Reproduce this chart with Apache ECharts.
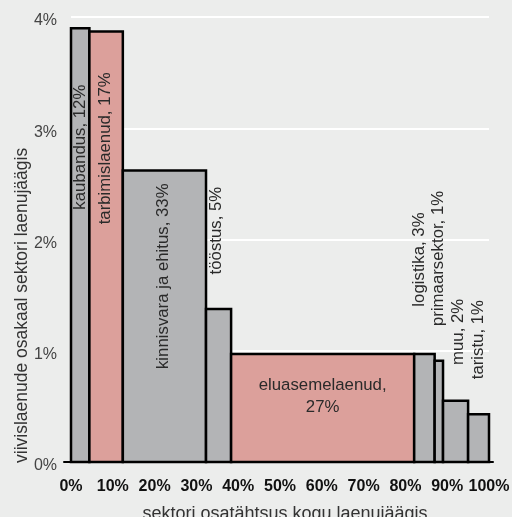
<!DOCTYPE html>
<html>
<head>
<meta charset="utf-8">
<script src="https://cdn.jsdelivr.net/npm/echarts@6/dist/echarts.min.js"></script>
<style>
  html, body { margin: 0; padding: 0; background: #ecedec; }
  #chart { width: 512px; height: 517px; }
</style>
</head>
<body>
<div id="chart"></div>
<script>
// Sectors of the loan portfolio
const sectors = ['kaubandus', 'tarbimislaenud', 'kinnisvara ja ehitus', 'tööstus',
  'eluasemelaenud', 'logistika', 'primaarsektor', 'muu', 'taristu'];
// Bar width: sector share of total loan portfolio, %
const portfolioShare = [4.4, 8.0, 19.9, 6.0, 43.8, 4.9, 2.0, 6.0, 5.0];
// Bar height: share of overdue loans within the sector, %
const overdueRate = [3.90, 3.87, 2.62, 1.375, 0.97, 0.97, 0.91, 0.55, 0.43];
// Sector share of all overdue loans (shown in labels)
const overdueShare = ['12%', '17%', '33%', '5%', '27%', '3%', '1%', '2%', '1%'];
// Axis ticks
const xTicks = [0, 10, 20, 30, 40, 50, 60, 70, 80, 90, 100];
const yTicks = [0, 1, 2, 3, 4];

// Household loans are drawn in a different colour
const householdSectors = ['tarbimislaenud', 'eluasemelaenud'];

// Label placement: centre height (axis units), horizontal nudge (px), horizontal text
const labelLayout = [
  { at: 2.83, dx: 0 },
  { at: 2.82, dx: -1 },
  { at: 1.67, dx: -1 },
  { at: 2.08, dx: -2 },
  { at: 0.59, dx: 0, flat: true },
  { at: 1.82, dx: -5 },
  { at: 1.83, dx: 0 },
  { at: 1.17, dx: 3 },
  { at: 1.10, dx: 0 }
];

// Build [start, end, height, index] rows from the cumulative widths
const rows = [];
let acc = 0;
portfolioShare.forEach((w, i) => {
  rows.push([acc, acc + w, overdueRate[i], i]);
  acc += w;
});

const FONT = '"Liberation Sans", Arial, sans-serif';

function labelText(i) {
  return labelLayout[i].flat
    ? sectors[i] + ',\n' + overdueShare[i]
    : sectors[i] + ', ' + overdueShare[i];
}

const chart = echarts.init(document.getElementById('chart'), null, { renderer: 'canvas' });

chart.setOption({
  backgroundColor: '#ecedec',
  animation: false,
  grid: [
    { left: 71, right: 23, top: 17, bottom: 55, containLabel: false, outerBoundsMode: 'none' },
    { left: 64, right: 19, top: 17, bottom: 55, containLabel: false, outerBoundsMode: 'none' }
  ],
  xAxis: [
    {
      type: 'value', gridIndex: 0, min: xTicks[0], max: xTicks[xTicks.length - 1],
      interval: xTicks[1] - xTicks[0],
      axisLine: { show: false }, axisTick: { show: false }, splitLine: { show: false },
      axisLabel: {
        formatter: '{value}%', color: '#111', fontWeight: 'bold',
        fontSize: 16, fontFamily: FONT, margin: 17
      },
      name: 'sektori osatähtsus kogu laenujäägis',
      nameLocation: 'middle', nameGap: 43,
      nameTextStyle: { color: '#333', fontSize: 18, fontFamily: FONT, padding: [0, 0, 0, 10] }
    },
    {
      type: 'value', gridIndex: 1, min: 0, max: 1,
      axisLine: { show: true, lineStyle: { color: '#000', width: 2 } },
      axisTick: { show: false }, axisLabel: { show: false }, splitLine: { show: false }
    }
  ],
  yAxis: [
    {
      type: 'value', gridIndex: 0, min: yTicks[0], max: yTicks[yTicks.length - 1],
      interval: yTicks[1] - yTicks[0],
      axisLine: { show: false }, axisTick: { show: false },
      splitLine: { show: true, lineStyle: { color: '#ffffff', width: 2 } },
      axisLabel: {
        formatter: '{value}%', color: '#444', fontSize: 16,
        fontFamily: FONT, margin: 14, verticalAlign: 'top', lineHeight: 8
      }
    },
    { type: 'value', gridIndex: 1, show: false, min: 0, max: 1 }
  ],
  graphic: [{
    type: 'text', x: 22, y: 463, rotation: Math.PI / 2,
    style: {
      text: 'viivislaenude osakaal sektori laenujäägis',
      fill: '#333', fontSize: 17.5, fontFamily: FONT,
      align: 'left', verticalAlign: 'middle'
    }
  }],
  series: [
    {
      type: 'custom', xAxisIndex: 0, yAxisIndex: 0, z: 2,
      data: rows,
      renderItem(params, api) {
        const i = api.value(3);
        const p0 = api.coord([api.value(0), api.value(2)]);
        const p1 = api.coord([api.value(1), 0]);
        const pink = householdSectors.includes(sectors[i]);
        return {
          type: 'rect',
          shape: { x: p0[0], y: p0[1], width: p1[0] - p0[0], height: p1[1] - p0[1] },
          style: { fill: pink ? '#dca09b' : '#b3b4b6', stroke: '#000', lineWidth: 2.5 }
        };
      }
    },
    {
      type: 'custom', xAxisIndex: 0, yAxisIndex: 0, z: 3,
      data: rows,
      renderItem(params, api) {
        const i = api.value(3);
        const lay = labelLayout[i];
        const xa = api.coord([api.value(0), 0])[0];
        const xb = api.coord([api.value(1), 0])[0];
        const cy = api.coord([0, lay.at])[1];
        return {
          type: 'text',
          x: (xa + xb) / 2 + lay.dx,
          y: cy,
          rotation: lay.flat ? 0 : Math.PI / 2,
          style: {
            text: labelText(i), fill: '#2a2a2a',
            fontSize: 16.8, fontFamily: FONT, lineHeight: 22,
            align: 'center', verticalAlign: 'middle'
          }
        };
      }
    }
  ]
});
</script>
</body>
</html>
